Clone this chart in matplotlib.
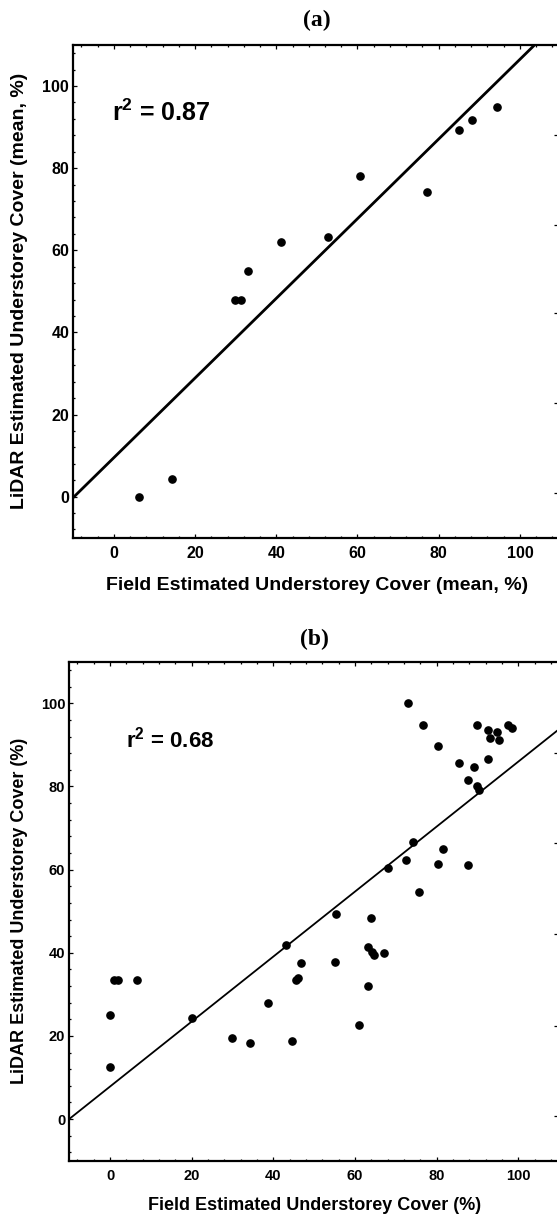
import numpy as np
import matplotlib.pyplot as plt
from matplotlib.ticker import MultipleLocator

# panel (a): plot-level means
field_a = [94.3, 88.1, 85.0, 77.0, 60.7, 52.7, 41.2, 33.0, 29.8, 31.3, 14.4, 6.3]
lidar_a = [94.9, 91.7, 89.2, 74.2, 78.1, 63.2, 62.0, 54.9, 48.0, 48.0, 4.4, 0.0]
fit_a = (9.5, 0.97)  # intercept, slope
r2_a = "0.87"

# panel (b): individual plots
field_b = [73.0, 76.6, 80.4, 85.4, 89.1, 87.7, 90.0, 90.5, 89.9, 92.7, 94.9, 93.2,
           95.2, 97.5, 98.5, 92.7, 74.2, 81.5, 68.1, 72.5, 80.3, 87.6, 75.6,
           55.3, 63.9, 43.0, 63.2, 64.1, 64.7, 67.1, 46.9, 55.1, 45.5, 46.0,
           0.9, 2.0, 6.5, 63.3, 38.6, 0.0, 20.1, 61.0, 29.8, 34.3, 44.6, 0.0]
lidar_b = [100.1, 94.8, 89.7, 85.7, 84.6, 81.6, 80.1, 79.2, 94.7, 93.5, 93.2, 91.7,
           91.1, 94.7, 94.0, 86.7, 66.7, 64.9, 60.4, 62.4, 61.3, 61.0, 54.7,
           49.4, 48.4, 41.8, 41.5, 40.2, 39.5, 40.0, 37.6, 37.8, 33.4, 34.0,
           33.4, 33.4, 33.4, 32.1, 27.9, 25.1, 24.3, 22.6, 19.5, 18.2, 18.7, 12.6]
fit_b = (7.85, 0.781)
r2_b = "0.68"

# stray tick marks of the neighbouring (cropped) panel, in pixel rows
neighbour_ticks = [135, 225, 313, 403, 493, 753, 843, 934, 1026, 1116]

W, H = 557, 1216
fig = plt.figure(figsize=(W / 100, H / 100), dpi=100)

sans = ['Liberation Sans', 'DejaVu Sans']
serif = ['Liberation Serif', 'DejaVu Serif']

plt.rcParams['mathtext.fontset'] = 'custom'
plt.rcParams['mathtext.bf'] = 'Liberation Sans:bold'
plt.rcParams['mathtext.rm'] = 'Liberation Sans:bold'


def panel(rect, xs, ys, fit, r2, r2_pos, r2_size, lw, title, title_pad,
          xlabel, ylabel, tick_fs, label_fs, xlab_y, ylab_x):
    ax = fig.add_axes(rect)
    ax.plot(xs, ys, 'o', color='k', ms=5.2, mec='k')
    ax.axline((0, fit[0]), slope=fit[1], color='k', lw=lw)
    ax.set_xlim(-10, 110)
    ax.set_ylim(-10, 110)
    ax.xaxis.set_major_locator(MultipleLocator(20))
    ax.yaxis.set_major_locator(MultipleLocator(20))
    ax.xaxis.set_minor_locator(MultipleLocator(4))
    ax.yaxis.set_minor_locator(MultipleLocator(4))
    ax.tick_params(which='both', direction='in', top=True, right=False,
                   width=0.9, colors='k')
    ax.tick_params(which='major', length=3.2)
    ax.tick_params(which='minor', length=1.6)
    ax.tick_params(axis='x', pad=6)
    ax.tick_params(axis='y', pad=3)
    for lab in ax.get_xticklabels() + ax.get_yticklabels():
        lab.set_family(sans)
        lab.set_fontweight('bold')
        lab.set_fontsize(tick_fs)
    for s in ax.spines.values():
        s.set_linewidth(1.6)
    ax.set_xlabel(xlabel, family=sans, fontweight='bold', fontsize=label_fs,
                  va='center')
    ax.set_ylabel(ylabel, family=sans, fontweight='bold', fontsize=label_fs,
                  va='center')
    ax.xaxis.set_label_coords(0.5, xlab_y)
    ax.yaxis.set_label_coords(ylab_x, 0.5)
    ax.set_title(title, family=serif, fontweight='bold', fontsize=17,
                 pad=title_pad)
    ax.text(r2_pos[0], r2_pos[1], r'$\mathbf{r^2}$' + ' = ' + r2,
            family=sans, fontweight='bold', fontsize=r2_size, ha='left',
            va='baseline')
    return ax


ax_a = panel([73.3 / W, 1 - 537.7 / H, 487.2 / W, 492.7 / H],
             field_a, lidar_a, fit_a, r2_a, (-0.5, 91.5), 18, 2.0, '(a)', 14,
             'Field Estimated Understorey Cover (mean, %)',
             'LiDAR Estimated Understorey Cover (mean, %)',
             11.5, 14, -(586 - 537.7) / 492.7, (20 - 73.3) / 487.2)
ax_b = panel([69.3 / W, 1 - 1160.7 / H, 489.7 / W, 499.0 / H],
             field_b, lidar_b, fit_b, r2_b, (4.0, 89.4), 16, 1.3, '(b)', 12,
             'Field Estimated Understorey Cover (%)',
             'LiDAR Estimated Understorey Cover (%)',
             10.5, 13, -(1206 - 1160.7) / 499.0, (20 - 69.3) / 489.7)

# neighbouring panel's axis just outside the crop
ghost = fig.add_axes([559.5 / W, 0, 0.01, 1])
ghost.set_ylim(H, 0)
ghost.set_xticks([])
ghost.set_yticks(neighbour_ticks)
ghost.set_yticklabels([])
ghost.tick_params(axis='y', direction='out', length=4, width=0.9)
for s in ghost.spines.values():
    s.set_visible(False)
ghost.patch.set_visible(False)

fig.savefig('out.png', dpi=100)
